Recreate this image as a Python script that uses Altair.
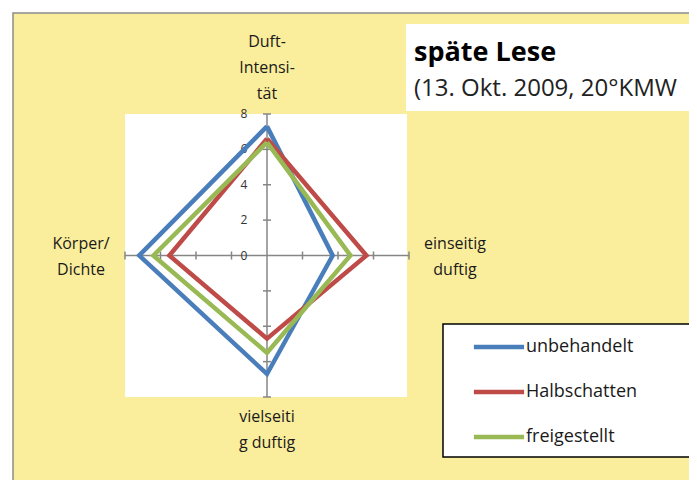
import altair as alt
import pandas as pd

# ---- data ----
categories = ["Duft-Intensität", "einseitig duftig", "vielseitig duftig", "Körper/Dichte"]
category_labels = ["Duft-\nIntensi-\ntät", "einseitig\nduftig", "vielseiti\ng duftig", "Körper/\nDichte"]
series = ["unbehandelt", "Halbschatten", "freigestellt"]
unbehandelt = [7.3, 3.7, 6.7, 7.2]
halbschatten = [6.6, 5.6, 4.7, 5.5]
freigestellt = [6.4, 4.7, 5.5, 6.4]
tick_values = [0, 2, 4, 6, 8]
axis_max = 8
title_text = "späte Lese"
subtitle_text = "(13. Okt. 2009, 20°KMW"
colors = ["#4A7EBB", "#BE4B48", "#98B954"]

FONT = "Open Sans"
YELLOW = "#FAEE9C"

values_by_series = dict(zip(series, [unbehandelt, halbschatten, freigestellt]))

rows = []
for s in series:
    vals = values_by_series[s]
    for k in range(len(categories) + 1):
        i = k % len(categories)
        rows.append({"series": s, "idx": i, "category": categories[i], "value": vals[i], "ord": k})
poly_df = pd.DataFrame(rows)

spoke_df = pd.DataFrame({"idx": list(range(len(categories))),
                         "label": category_labels,
                         "value": [axis_max] * len(categories)})

tick_rows = []
for i in range(len(categories)):
    for v in tick_values[1:]:
        tick_rows.append({"idx": i, "value": v})
tick_df = pd.DataFrame(tick_rows)
ticklabel_df = pd.DataFrame({"idx": [0] * len(tick_values), "value": tick_values,
                             "txt": [str(v) for v in tick_values]})


def to_xy(ch):
    return ch.transform_calculate(
        ang="PI/2 - datum.idx*PI/2",
    ).transform_calculate(
        px="datum.value*cos(datum.ang)",
        py="datum.value*sin(datum.ang)",
        zero="0",
    )


xs = alt.Scale(domain=[-axis_max, axis_max], nice=False, zero=False)
ys = alt.Scale(domain=[-axis_max, axis_max], nice=False, zero=False)
X = lambda f: alt.X(f, type="quantitative", scale=xs, axis=None)
Y = lambda f: alt.Y(f, type="quantitative", scale=ys, axis=None)

one = pd.DataFrame({"a": [0]})

# decorative backgrounds (pixel positions relative to plot origin)
bg = alt.Chart(one).mark_rect(fill=YELLOW, stroke="#8C8C8C", strokeWidth=1.5).encode(
    x=alt.value(-112), x2=alt.value(590), y=alt.value(-101), y2=alt.value(380))
plot_bg = alt.Chart(one).mark_rect(fill="white").encode(
    x=alt.value(0), x2=alt.value(282), y=alt.value(0), y2=alt.value(283))
title_bg = alt.Chart(one).mark_rect(fill="white").encode(
    x=alt.value(281), x2=alt.value(590), y=alt.value(-90), y2=alt.value(-3))
legend_bg = alt.Chart(one).mark_rect(fill="white", stroke="black", strokeWidth=1.5).encode(
    x=alt.value(318), x2=alt.value(567), y=alt.value(210), y2=alt.value(343))

title_mark = alt.Chart(pd.DataFrame({"t": [title_text]})).mark_text(
    font=FONT, fontSize=27, fontWeight="bold", align="left", baseline="alphabetic", color="black"
).encode(x=alt.value(289), y=alt.value(-53), text="t:N")
subtitle_mark = alt.Chart(pd.DataFrame({"t": [subtitle_text]})).mark_text(
    font=FONT, fontSize=24, align="left", baseline="alphabetic", color="#222222"
).encode(x=alt.value(289), y=alt.value(-18), text="t:N")

# axes (spokes)
spokes = to_xy(alt.Chart(spoke_df)).mark_rule(color="#868686", strokeWidth=1.5).encode(
    x=X("zero"), y=Y("zero"), x2="px:Q", y2="py:Q")
ticks = to_xy(alt.Chart(tick_df)).transform_calculate(rot="datum.idx*90").mark_point(
    shape="M-1,0H1", size=64, stroke="#868686", strokeWidth=1.5, filled=False, opacity=1
).encode(x=X("px"), y=Y("py"), angle=alt.Angle("rot:Q", scale=None))
tick_labels = to_xy(alt.Chart(ticklabel_df)).mark_text(
    font=FONT, fontSize=12, align="center", baseline="middle", dx=-23, color="#333333"
).encode(x=X("px"), y=Y("py"), text="txt:N")

offsets = {0: (0, -72), 1: (46, -12), 2: (0, 20), 3: (-44, -12)}
cat_layers = []
for i, (dx, dy) in offsets.items():
    cat_layers.append(
        to_xy(alt.Chart(spoke_df)).transform_filter(f"datum.idx == {i}").mark_text(
            font=FONT, fontSize=16, align="center", baseline="middle", lineBreak="\n",
            lineHeight=26, dx=dx, dy=dy, color="#1a1a1a"
        ).encode(x=X("px"), y=Y("py"), text="label:N")
    )

color = alt.Color("series:N", scale=alt.Scale(domain=series, range=colors),
                  legend=alt.Legend(title=None, orient="none", legendX=363, legendY=222,
                                    symbolType="M-3,0H3", symbolSize=280, symbolStrokeWidth=4.5,
                                    labelFont=FONT, labelFontSize=18, labelColor="#1a1a1a",
                                    labelOffset=16, rowPadding=25, padding=0))
line_layers = []
for s in series:
    line_layers.append(
        to_xy(alt.Chart(poly_df)).transform_filter(alt.datum.series == s).mark_line(
            strokeWidth=4.5, strokeJoin="miter"
        ).encode(x=X("px"), y=Y("py"), order="ord:Q", color=color)
    )

chart = alt.layer(
    bg, plot_bg, title_bg, legend_bg, spokes, ticks, tick_labels, *cat_layers, *line_layers,
    title_mark, subtitle_mark
).properties(
    width=284, height=283,
    padding={"left": 117, "top": 106, "right": 280, "bottom": 83},
    autosize=alt.AutoSizeParams(type="none"),
    background="white",
).configure_view(stroke=None)

chart.save("out.html", embed_options={"renderer": "svg", "actions": False})
